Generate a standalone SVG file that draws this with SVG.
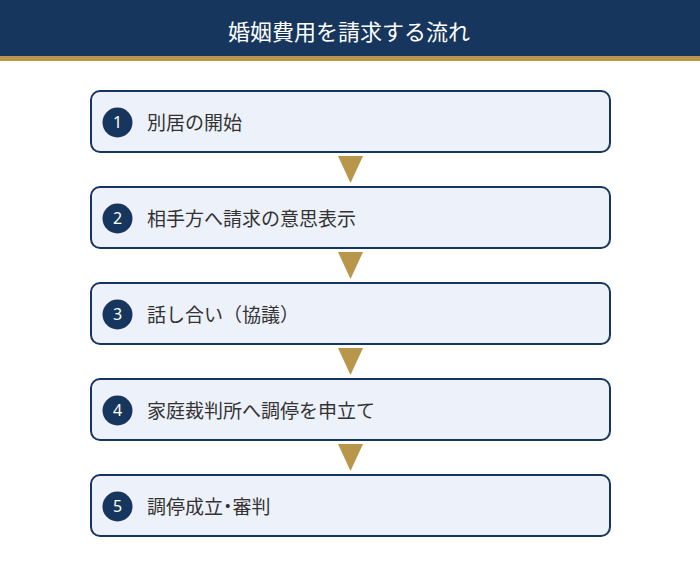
<svg xmlns="http://www.w3.org/2000/svg" width="700" height="566" viewBox="0 0 700 566">
<style>
.box{fill:#EDF1F9;stroke:#17365D;stroke-width:2}
.num{fill:#17365D}
.numt{fill:#FFFFFF;font-family:"Noto Sans","Noto Sans CJK JP",sans-serif;font-size:16px;text-anchor:middle}
.lbl{fill:#333333;font-family:"Noto Sans CJK JP",sans-serif;font-size:19px}
.arr{fill:#B8964A}
.title{fill:#FFFFFF;font-family:"Noto Sans CJK JP",sans-serif;font-size:22px;text-anchor:middle}
.pa{font-feature-settings:"palt"}
</style>
<rect x="0" y="0" width="700" height="566" fill="#FFFFFF"/>
<g id="header">
<rect x="0" y="0" width="700" height="56" fill="#17365D"/>
<rect x="0" y="56" width="700" height="5" fill="#B8964A"/>
<text class="title" x="349" y="40">婚姻費用を請求する流れ</text>
</g>
<g id="connectors">
<polygon class="arr" points="338,156 363,156 350.5,183"/>
<polygon class="arr" points="338,252 363,252 350.5,279"/>
<polygon class="arr" points="338,348 363,348 350.5,375"/>
<polygon class="arr" points="338,444 363,444 350.5,471"/>
</g>
<g id="step1">
<rect class="box" x="91" y="91" width="519" height="61" rx="9"/>
<circle class="num" cx="117.5" cy="122.5" r="15"/>
<text class="numt" x="117.5" y="128.3">1</text>
<text class="lbl" x="147" y="129.5">別居の開始</text>
</g>
<g id="step2">
<rect class="box" x="91" y="187" width="519" height="61" rx="9"/>
<circle class="num" cx="117.5" cy="218.5" r="15"/>
<text class="numt" x="117.5" y="224.3">2</text>
<text class="lbl" x="147" y="225.5">相手方へ請求の意思表示</text>
</g>
<g id="step3">
<rect class="box" x="91" y="283" width="519" height="61" rx="9"/>
<circle class="num" cx="117.5" cy="314.5" r="15"/>
<text class="numt" x="117.5" y="320.3">3</text>
<text class="lbl" x="147" y="321.5">話し合い（協議）</text>
</g>
<g id="step4">
<rect class="box" x="91" y="379" width="519" height="61" rx="9"/>
<circle class="num" cx="117.5" cy="410.5" r="15"/>
<text class="numt" x="117.5" y="416.3">4</text>
<text class="lbl" x="147" y="417.5">家庭裁判所へ調停を申立て</text>
</g>
<g id="step5">
<rect class="box" x="91" y="475" width="519" height="61" rx="9"/>
<circle class="num" cx="117.5" cy="506.5" r="15"/>
<text class="numt" x="117.5" y="512.3">5</text>
<text class="lbl" x="147" y="513.5">調停成立<tspan class="pa">・</tspan>審判</text>
</g>
</svg>
